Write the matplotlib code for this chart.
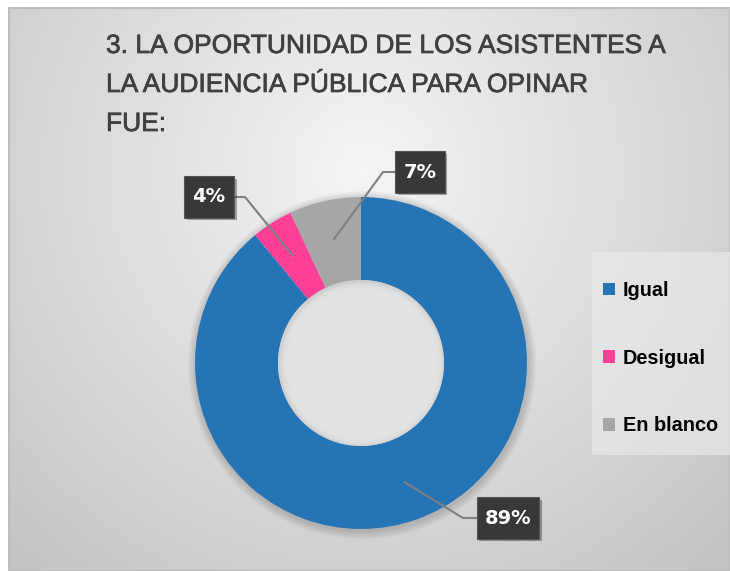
"""
Donut chart: oportunidad de los asistentes para opinar
"""

import numpy as np
import matplotlib
matplotlib.use('agg')

import matplotlib.pyplot as plt
from matplotlib import patheffects
from matplotlib.patches import Rectangle, Circle

# ------------- data ---------------------------------
categories = ['Igual', 'Desigual', 'En blanco']
values = [89, 4, 7]
colors = ['#2574b6', '#ff4096', '#a6a6a6']
title_lines = ['3. LA OPORTUNIDAD DE LOS ASISTENTES A',
               'LA AUDIENCIA PÚBLICA PARA OPINAR',
               'FUE:']

# ------------- layout (pixels, top-left origin) ------
W, H = 730, 571
center_px = (361, 363)
R = 166
label_pos = [(508, 518), (209, 197), (420, 172)]
elbow_dx = [-45, 36, -37]

sans = ['Liberation Sans', 'DejaVu Sans']


def Y(y):
    return H - y


fig = plt.figure(figsize=(W / 100, H / 100), dpi=100)
ax = fig.add_axes([0, 0, 1, 1])

# ----------- background ------------------------------
yy, xx = np.mgrid[8:H, 9:W]
d = np.sqrt((xx - 365) ** 2 + (yy - 170) ** 2) / 520
d = np.clip(d, 0, 1)
shade = 0.96 - 0.19 * d
img = np.dstack([shade, shade, shade])
ax.imshow(img, extent=(9, W, 0, Y(8)), origin='upper', zorder=0,
          interpolation='bilinear')
ax.add_patch(Rectangle((9, 0), W - 9, Y(8), fill=False,
                       edgecolor='#bdbdbd', lw=1.5, zorder=1))

# ----------- donut shadow ---------------------------
cx, cy = center_px[0], Y(center_px[1])
for k in range(8):
    ax.add_patch(Circle((cx + 1, cy - 2), R + 8 - k, color='k',
                        alpha=0.018, lw=0, zorder=2))

wedges, _ = ax.pie(values, colors=colors, startangle=90,
                   counterclock=False, center=(cx, cy), radius=R,
                   wedgeprops=dict(width=R / 2, edgecolor='none'),
                   frame=True)
for w in wedges:
    w.set_zorder(3)

# inner hole
ax.add_patch(Circle((cx, cy), R / 2, color='#d0d0d0', lw=0, zorder=4))
for k in range(7):
    ax.add_patch(Circle((cx + 1, cy - 1), R / 2 - 1.5 - k, color='#e4e4e4',
                        alpha=0.35, lw=0, zorder=4))

# ----------- labels ---------------------------------
angles = 90 - 360 * (np.cumsum(values) - np.array(values) / 2) / sum(values)
for v, a, (lx, ly), dx in zip(values, angles, label_pos, elbow_dx):
    ax_x = cx + 0.76 * R * np.cos(np.radians(a))
    ax_y = cy + 0.76 * R * np.sin(np.radians(a))
    ax.plot([ax_x, lx + dx, lx], [ax_y, Y(ly), Y(ly)], color='#7f7f7f',
            lw=1.5, zorder=5, solid_capstyle='butt')
    t = ax.text(lx, Y(ly), f'{v}%', color='white', fontsize=14,
                fontweight='bold', ha='center', va='center', zorder=6,
                family='DejaVu Sans',
                bbox=dict(boxstyle='square,pad=0.42', facecolor='#383838',
                          edgecolor='#555555', lw=0.8, mutation_aspect=1.35))
    t.get_bbox_patch().set_path_effects([
        patheffects.SimplePatchShadow(offset=(2, -2), alpha=0.35),
        patheffects.Normal()])

# ----------- title ----------------------------------
for i, line in enumerate(title_lines):
    ax.text(106, Y(53 + 39 * i), line, color='#404040', fontsize=19,
            family=sans, va='baseline', ha='left', zorder=6,
            path_effects=[patheffects.withStroke(linewidth=0.5,
                                                 foreground='#404040')])

# ----------- legend ---------------------------------
ax.add_patch(Rectangle((592, Y(455)), W - 592, 455 - 252,
                       facecolor='#ececec', alpha=0.6, lw=0, zorder=6))
leg = ax.legend(wedges, categories, loc='upper left',
                bbox_to_anchor=(603 / W, 1 - 281 / H),
                bbox_transform=fig.transFigure, frameon=False,
                borderaxespad=0, borderpad=0,
                handlelength=0.6, handleheight=0.6, handletextpad=0.4,
                labelspacing=2.45, prop=dict(family=sans, weight='bold',
                                             size=14.3))
leg.set_zorder(7)

# ------------ overall ----------------
ax.set_xlim(0, W)
ax.set_ylim(0, H)
ax.set_aspect('auto')
ax.axis('off')
fig.patch.set_facecolor('white')
plt.savefig('out.png', dpi=100)
